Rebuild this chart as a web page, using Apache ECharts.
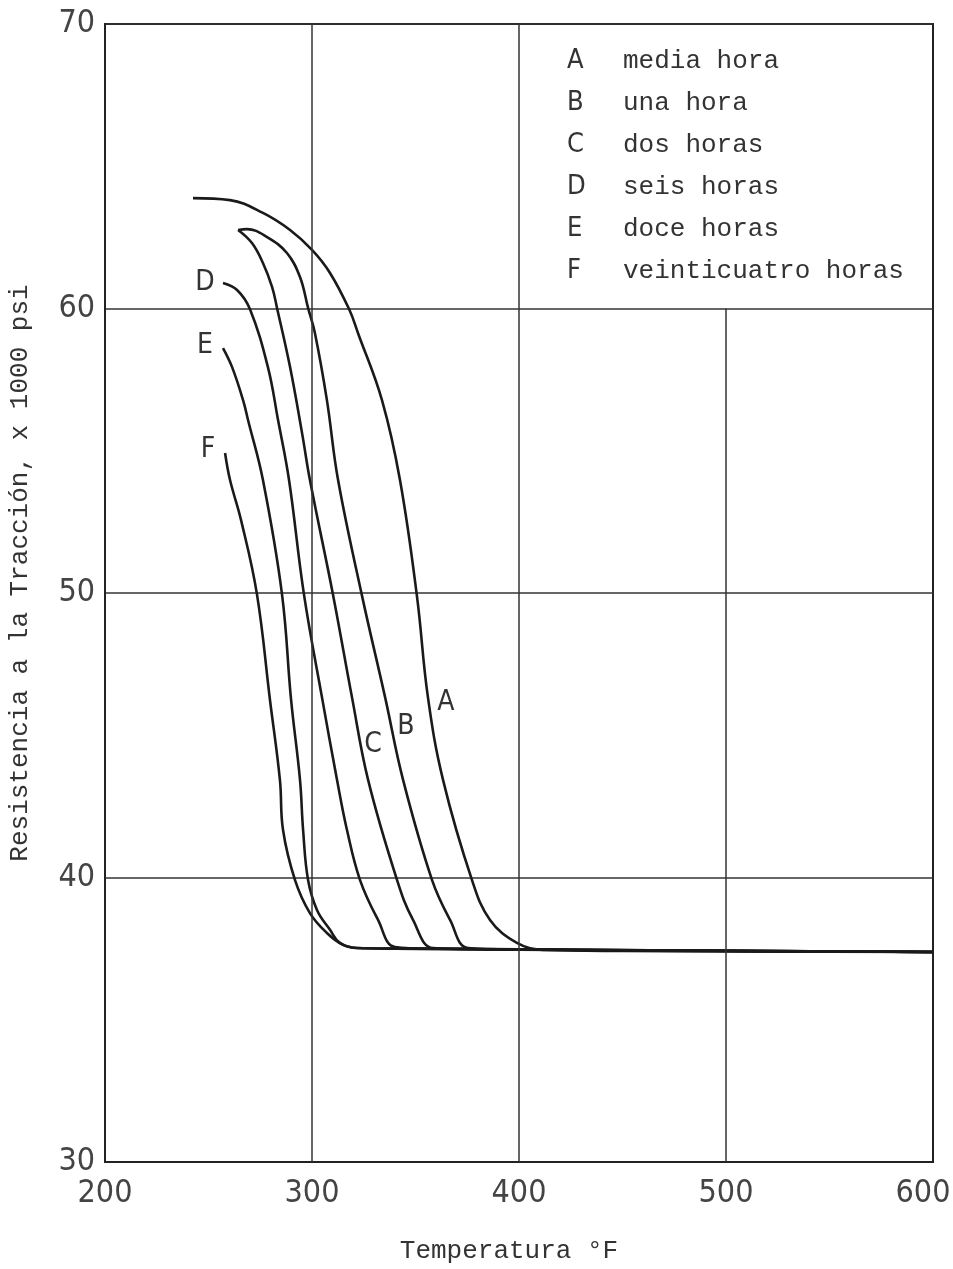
<!DOCTYPE html>
<html lang="es">
<head>
<meta charset="UTF-8">
<title>Resistencia a la tracción vs temperatura</title>
<script src="https://cdn.jsdelivr.net/npm/echarts@6.0.0/dist/echarts.min.js"></script>
<style>
  html, body { margin: 0; padding: 0; background: #fff; }
  #chart { width: 953px; height: 1269px; }
</style>
</head>
<body>
<div id="chart"></div>
<script>
// curvas: [temperatura °F, resistencia x1000 psi]
var curveA = [[242.5,63.88],[260.4,63.81],[276.3,63.36],[289.4,62.76],[300.0,62.06],[308.7,61.25],[317.9,59.98],[322.2,59.14],[333.8,56.78],[342.5,53.97],[350.7,49.89],[356.0,46.34],[363.3,43.43],[377.3,39.91],[386.0,38.51],[399.0,37.70],[411.6,37.45],[450,37.42],[600,37.38]];
var curveB = [[264.3,62.76],[268.6,62.79],[278.3,62.51],[287.9,61.95],[294.2,61.11],[298.1,60.02],[301.4,59.14],[307.2,56.78],[312.6,53.97],[324.2,49.89],[335.3,46.34],[344.0,43.43],[358.0,39.91],[366.7,38.51],[375.4,37.52],[400,37.46],[600,37.38]];
var curveC = [[264.3,62.76],[271.0,62.30],[276.3,61.60],[280.7,60.76],[283.1,60.02],[289.4,57.94],[295.2,55.62],[299.0,53.97],[310.1,49.96],[319.3,46.34],[327.1,43.43],[341.1,39.91],[348.8,38.51],[358.5,37.52],[380,37.48],[600,37.38]];
var curveD = [[257.0,60.90],[263.8,60.65],[270.0,59.98],[278.7,57.94],[283.6,56.08],[288.9,53.97],[296.1,49.96],[304.8,46.34],[312.1,43.43],[316.9,41.67],[323.2,39.91],[331.9,38.51],[340.1,37.56],[360,37.50],[600,37.38]];
var curveE = [[257.0,58.61],[261.4,57.94],[266.7,56.78],[269.1,56.08],[276.3,53.97],[285.5,49.96],[289.9,46.24],[294.2,43.43],[295.7,41.67],[298.1,39.91],[302.4,38.86],[308.7,38.16],[313.5,37.70],[321.7,37.52],[340,37.50],[600,37.38]];
var curveF = [[258.0,54.92],[260.4,53.97],[265.7,52.57],[273.4,49.96],[279.7,46.24],[284.5,43.43],[286.0,41.67],[291.8,39.91],[299.0,38.75],[307.2,38.05],[315.0,37.63],[321.7,37.52],[340,37.50],[600,37.38]];

var curveNames = ['A', 'B', 'C', 'D', 'E', 'F'];
var curves = [curveA, curveB, curveC, curveD, curveE, curveF];
// posición de la letra de cada curva
var curveLabelPos = [[364.7,46.13],[345.4,45.29],[329.5,44.66],[248.3,60.9],[248.3,58.68],[249.8,55.03]];
var legendText = ['media hora', 'una hora', 'dos horas', 'seis horas', 'doce horas', 'veinticuatro horas'];

var xTicks = [200, 300, 400, 500, 600];
var yTicks = [30, 40, 50, 60, 70];

var mono = "'Liberation Mono', 'DejaVu Sans Mono', monospace";
var narrow = "'Liberation Sans Narrow', 'DejaVu Sans Condensed', 'Liberation Sans', sans-serif";
var ink = '#1a1a1a';

var series = curves.map(function (pts, i) {
  return {
    name: curveNames[i],
    type: 'line',
    data: pts,
    smooth: 0.4,
    showSymbol: false,
    lineStyle: { color: ink, width: 2.6 },
    markPoint: {
      symbol: 'circle',
      symbolSize: 0,
      data: [{ coord: curveLabelPos[i] }],
      label: { show: true, formatter: curveNames[i], color: '#333', fontFamily: narrow, fontSize: 28 }
    },
    z: 3
  };
});

// líneas verticales de la cuadrícula (la de 500 empieza bajo la leyenda)
series.push({
  type: 'line',
  data: [],
  markLine: {
    silent: true,
    symbol: 'none',
    label: { show: false },
    lineStyle: { color: '#333', width: 1.5, type: 'solid' },
    data: [
      [{ coord: [xTicks[1], yTicks[0]] }, { coord: [xTicks[1], yTicks[4]] }],
      [{ coord: [xTicks[2], yTicks[0]] }, { coord: [xTicks[2], yTicks[4]] }],
      [{ coord: [xTicks[3], yTicks[0]] }, { coord: [xTicks[3], yTicks[3]] }]
    ]
  }
});

var legendGraphics = [];
legendText.forEach(function (t, i) {
  var y = 47 + i * 42;
  legendGraphics.push({
    type: 'text', left: 567, top: y,
    style: { text: curveNames[i], font: '27px ' + narrow, fill: '#333' }
  });
  legendGraphics.push({
    type: 'text', left: 623, top: y + 1,
    style: { text: t, font: '26px ' + mono, fill: '#333' }
  });
});

var option = {
  backgroundColor: '#fff',
  animation: false,
  grid: {
    left: 105, right: 20, top: 24, bottom: 107,
    outerBoundsMode: 'none', containLabel: false,
    show: true, borderColor: '#222', borderWidth: 2
  },
  xAxis: {
    type: 'value', min: 200, max: 600, interval: 100,
    name: 'Temperatura °F', nameLocation: 'middle', nameGap: 76,
    nameTextStyle: { fontFamily: mono, fontSize: 26, color: '#333', padding: [0, 20, 0, 0] },
    axisLine: { show: true, lineStyle: { color: '#222', width: 2 } },
    axisTick: { show: false },
    splitLine: { show: false },
    axisLabel: {
      fontFamily: narrow, fontSize: 32, color: '#444', margin: 16,
      formatter: function (v) { return v === xTicks[4] ? '{r|' + v + '}' : String(v); },
      rich: { r: { fontFamily: narrow, fontSize: 32, color: '#444', padding: [0, 20, 0, 0] } }
    }
  },
  yAxis: {
    type: 'value', min: 30, max: 70, interval: 10,
    name: 'Resistencia a la Tracción, x 1000 psi', nameLocation: 'middle', nameGap: 72,
    nameTextStyle: { fontFamily: mono, fontSize: 26, color: '#333', padding: [0, 0, 0, 40] },
    axisLine: { show: true, lineStyle: { color: '#222', width: 2 } },
    axisTick: { show: false },
    splitLine: { show: true, lineStyle: { color: '#333', width: 1.5 } },
    axisLabel: { fontFamily: narrow, fontSize: 32, color: '#444', margin: 10 }
  },
  graphic: legendGraphics,
  series: series
};

var chart = echarts.init(document.getElementById('chart'));
chart.setOption(option);
</script>
</body>
</html>
